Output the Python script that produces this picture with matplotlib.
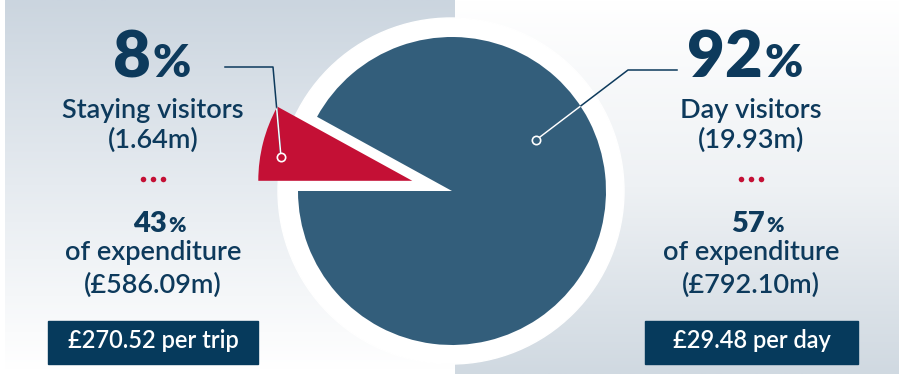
import numpy as np
import matplotlib.pyplot as plt
from matplotlib.patches import Circle, Rectangle
from matplotlib.colors import LinearSegmentedColormap

W, H = 899, 374

labels = ['Staying visitors', 'Day visitors']
shares = [8, 92]
visitors = ['(1.64m)', '(19.93m)']
exp_share = [43, 57]
exp_value = ['(£586.09m)', '(£792.10m)']
spend = ['£270.52 per trip', '£29.48 per day']

navy = '#0d3a5c'
boxc = '#063a5c'
blue = '#335e7b'
red = '#c41035'

plt.rcParams['font.family'] = ['Lato', 'DejaVu Sans']

fig = plt.figure(figsize=(W / 100, H / 100), dpi=100)
ax = fig.add_axes([0, 0, 1, 1])


def Y(y):
    # screen y (from top) -> data y
    return H - y


# background panels
grad = np.linspace(0, 1, 256).reshape(-1, 1)
left_cm = LinearSegmentedColormap.from_list('l', ['#cbd5df', '#e6ebf0', '#ffffff'])
right_cm = LinearSegmentedColormap.from_list('r', ['#ffffff', '#eef1f4', '#d0d9e1'])
ax.imshow(grad, cmap=left_cm, aspect='auto', extent=[5, 455, Y(370), Y(0)],
          origin='upper', zorder=0)
ax.imshow(grad, cmap=right_cm, aspect='auto', extent=[455, W, Y(H), Y(0)],
          origin='upper', zorder=0)

# white disc behind pie
ax.add_patch(Circle((451, Y(191)), 173, color='white', zorder=1))

cx, cy, r = 452, Y(191), 154
# explode is in data units here (pie is drawn in pixel-like coords)
wedges, _ = ax.pie(shares, colors=[red, blue], startangle=180 - 3.6 * shares[0],
                   explode=[41, 0], center=(cx, cy), radius=r,
                   wedgeprops=dict(linewidth=0), frame=True)
for w in wedges:
    w.set_zorder(2)
ax.set_xlim(0, W)
ax.set_ylim(0, H)
ax.set_aspect('auto')
ax.axis('off')

# leader lines
lead = [
    ([225, 273, 281], [67, 67, 157], wedges[0], red),
    ([677, 628, 536], [70, 70, 140], wedges[1], blue),
]
for xs, ys, wdg, fc in lead:
    yy = [Y(v) for v in ys]
    ax.plot(xs, yy, color=navy, lw=1.1, zorder=3)
    ln, = ax.plot(xs, yy, color='white', lw=1.1, zorder=4)
    ln.set_clip_path(wdg)
    ax.plot(xs[-1], yy[-1], 'o', ms=6, mfc=fc, mec='white', mew=1.2, zorder=5)

cols = [153, 751]
splits = [151, 763]
fw = 'semibold'
for i, x in enumerate(cols):
    s = splits[i]
    ax.text(s, Y(77), str(shares[i]), ha='right', va='baseline', fontsize=47,
            fontweight='heavy', color=navy, zorder=6)
    ax.text(s + 1, Y(77), '%', ha='left', va='baseline', fontsize=33,
            fontweight='heavy', color=navy, zorder=6)
    ax.text(x, Y(118), labels[i], ha='center', va='baseline', fontsize=19.5,
            fontweight=fw, color=navy, zorder=6)
    ax.text(x, Y(148), visitors[i], ha='center', va='baseline', fontsize=19.5,
            fontweight=fw, color=navy, zorder=6)
    for dx in (-10, 0, 10):
        ax.plot(x + dx, Y(179), 'o', ms=4, color=red, mew=0, zorder=6)
    ax.text(x + 14, Y(232), str(exp_share[i]), ha='right', va='baseline',
            fontsize=21, fontweight='heavy', color=navy, zorder=6)
    ax.text(x + 15, Y(232), '%', ha='left', va='baseline', fontsize=15,
            fontweight='heavy', color=navy, zorder=6)
    ax.text(x, Y(260), 'of expenditure', ha='center', va='baseline', fontsize=19.5,
            fontweight=fw, color=navy, zorder=6)
    ax.text(x, Y(293), exp_value[i], ha='center', va='baseline', fontsize=19.5,
            fontweight=fw, color=navy, zorder=6)

boxes = [(48, 258), (645, 858)]
for i, (x0, x1) in enumerate(boxes):
    ax.add_patch(Rectangle((x0, Y(364)), x1 - x0, 43, color=boxc, zorder=6))
    ax.text((x0 + x1) / 2, Y(348), spend[i], ha='center', va='baseline',
            fontsize=17, fontweight=fw, color='white', zorder=7)

fig.savefig('out.png', dpi=100)
